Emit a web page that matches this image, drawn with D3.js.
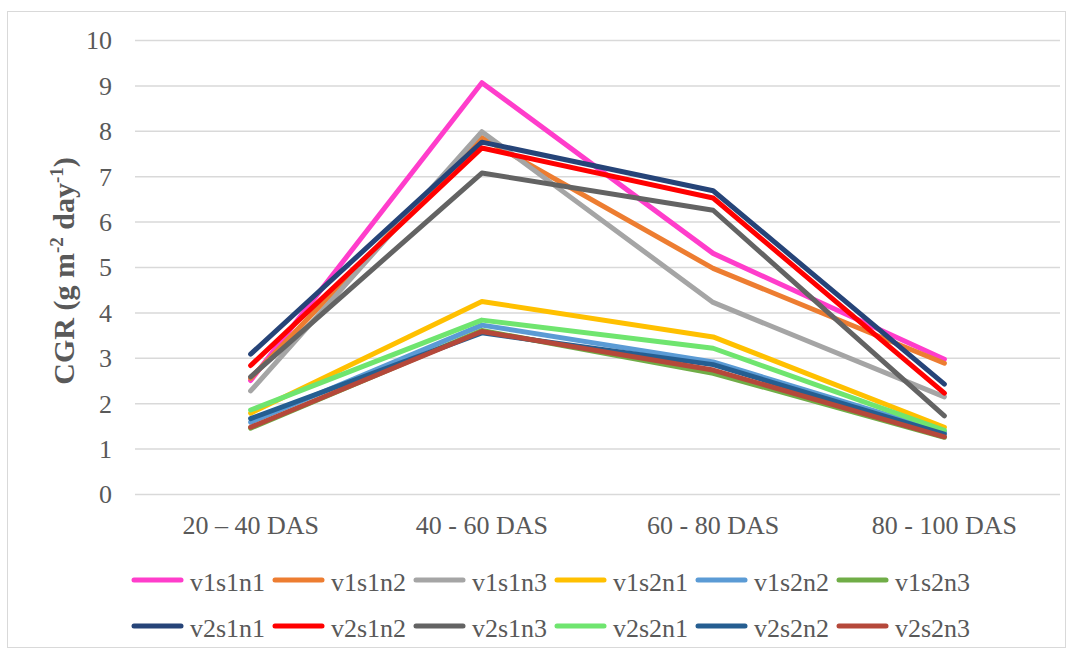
<!DOCTYPE html>
<html><head><meta charset="utf-8">
<script src="https://cdn.jsdelivr.net/npm/d3@7"></script>
<style>body{margin:0;background:#fff}svg{display:block}</style>
</head><body>
<script>
const categories = ["20 \u2013 40 DAS", "40 - 60 DAS", "60 - 80 DAS", "80 - 100 DAS"];
const seriesNames = ["v1s1n1","v1s1n2","v1s1n3","v1s2n1","v1s2n2","v1s2n3","v2s1n1","v2s1n2","v2s1n3","v2s2n1","v2s2n2","v2s2n3"];
const seriesColors = ["#FF3DCB","#ED7D31","#A5A5A5","#FFC000","#5B9BD5","#70AD47","#264478","#FF0000","#636363","#6FE56F","#255E91","#B5483A"];
const v1s1n1 = [2.50, 9.06, 5.30, 2.97];
const v1s1n2 = [2.55, 7.85, 4.97, 2.88];
const v1s1n3 = [2.27, 7.98, 4.22, 2.14];
const v1s2n1 = [1.78, 4.24, 3.46, 1.47];
const v1s2n2 = [1.58, 3.72, 2.91, 1.36];
const v1s2n3 = [1.45, 3.60, 2.66, 1.25];
const v2s1n1 = [3.08, 7.75, 6.68, 2.42];
const v2s1n2 = [2.83, 7.62, 6.52, 2.22];
const v2s1n3 = [2.58, 7.07, 6.25, 1.72];
const v2s2n1 = [1.85, 3.83, 3.21, 1.40];
const v2s2n2 = [1.66, 3.55, 2.85, 1.32];
const v2s2n3 = [1.47, 3.58, 2.73, 1.26];
const seriesValues = [v1s1n1,v1s1n2,v1s1n3,v1s2n1,v1s2n2,v1s2n3,v2s1n1,v2s1n2,v2s1n3,v2s2n1,v2s2n2,v2s2n3];
const yTicks = [0,1,2,3,4,5,6,7,8,9,10];

const W = 1078, H = 652;
const FONT = "Liberation Serif";
const svg = d3.select("body").append("svg").attr("width", W).attr("height", H)
  .attr("font-family", FONT);
svg.append("rect").attr("x", 7.5).attr("y", 11.5).attr("width", 1058).attr("height", 636)
  .attr("fill", "#fff").attr("stroke", "#d9d9d9").attr("stroke-width", 1);

const x = d3.scaleBand().domain(categories).range([135, 1060]);
const y = d3.scaleLinear().domain([0, 10]).range([494, 40]);

// grid + y ticks
const yAxis = d3.axisLeft(y).tickValues(yTicks).tickSize(-(1060 - 135)).tickFormat(d3.format("d")).tickPadding(23);
const gy = svg.append("g").attr("transform", "translate(135,0)").call(yAxis)
  .attr("font-family", FONT).attr("font-size", 26);
gy.select(".domain").remove();
gy.selectAll(".tick line").attr("stroke", "#d9d9d9").attr("stroke-width", 1.5);
gy.selectAll(".tick text").attr("fill", "#595959").attr("dy", "0.34em");

const xAxis = d3.axisBottom(x).tickSize(0).tickPadding(22);
const gx = svg.append("g").attr("transform", "translate(0,494)").call(xAxis)
  .attr("font-family", FONT).attr("font-size", 26);
gx.select(".domain").remove();
gx.selectAll(".tick text").attr("fill", "#595959");

// y title
const title = svg.append("text").attr("transform", "translate(74,271) rotate(-90)")
  .attr("text-anchor", "middle").attr("fill", "#595959")
  .attr("font-family", FONT).attr("font-size", 30).attr("font-weight", "bold");
title.append("tspan").text("CGR (g m");
title.append("tspan").attr("dy", -11).attr("font-size", 19).text("-2");
title.append("tspan").attr("dy", 11).text(" day");
title.append("tspan").attr("dy", -11).attr("font-size", 19).text("-1");
title.append("tspan").attr("dy", 11).text(")");

// lines
const line = d3.line().x((d, i) => x(categories[i]) + x.bandwidth() / 2).y(d => y(d));
seriesValues.forEach((vals, k) => {
  svg.append("path").datum(vals).attr("d", line).attr("fill", "none")
    .attr("stroke", seriesColors[k]).attr("stroke-width", 5)
    .attr("stroke-linecap", "round").attr("stroke-linejoin", "round");
});

// legend
const leg = svg.append("g");
seriesNames.forEach((name, k) => {
  const col = k % 6, row = Math.floor(k / 6);
  const lx = 134 + col * 141, ly = 580 + row * 46;
  leg.append("line").attr("x1", lx).attr("x2", lx + 47).attr("y1", ly).attr("y2", ly)
    .attr("stroke", seriesColors[k]).attr("stroke-width", 5).attr("stroke-linecap", "round");
  leg.append("text").attr("x", lx + 56).attr("y", ly + 11).text(name)
    .attr("fill", "#595959").attr("font-family", FONT).attr("font-size", 26);
});
</script>
</body></html>
